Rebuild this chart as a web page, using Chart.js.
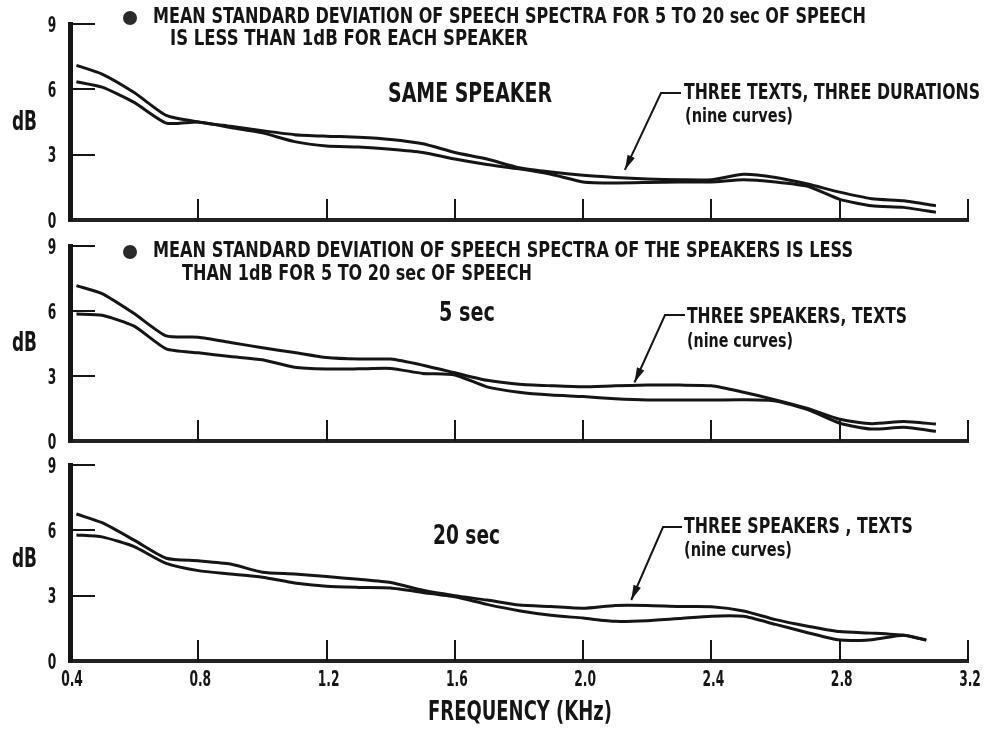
<!DOCTYPE html>
<html>
<head>
<meta charset="utf-8">
<script src="https://cdn.jsdelivr.net/npm/chart.js@4.4.1/dist/chart.umd.min.js"></script>
<style>
  body { margin: 0; background: #fff; }
  #wrap { position: relative; width: 984px; height: 731px; }
  canvas { position: absolute; left: 0; }
</style>
</head>
<body>
<div id="wrap">
  <canvas id="panel-1" width="984" height="240" style="top:0px"></canvas>
  <canvas id="panel-2" width="984" height="237" style="top:224px"></canvas>
  <canvas id="panel-3" width="984" height="286" style="top:445px"></canvas>
</div>
<script>
const INK = "#151515";
const FONT = "'DejaVu Sans Condensed', 'DejaVu Sans', sans-serif";

// frequency (kHz) where the curves were read
const freq = [0.42, 0.5, 0.6, 0.7, 0.8, 0.9, 1.0, 1.1, 1.2, 1.3, 1.4, 1.5, 1.6, 1.7,
  1.8, 1.9, 2.0, 2.1, 2.2, 2.3, 2.4, 2.5, 2.6, 2.7, 2.8, 2.9, 3.0, 3.1];
const freq20 = [0.42, 0.5, 0.6, 0.7, 0.8, 0.9, 1.0, 1.1, 1.2, 1.3, 1.4, 1.5, 1.6, 1.7,
  1.8, 1.9, 2.0, 2.1, 2.2, 2.3, 2.4, 2.5, 2.6, 2.7, 2.8, 2.9, 3.0, 3.07];

// same speaker, upper / lower edge of the nine curves (dB)
const sameHigh = [7.1, 6.7, 5.85, 4.8, 4.5, 4.3, 4.1, 3.92, 3.85, 3.8, 3.7, 3.5, 3.1, 2.8,
  2.4, 2.2, 2.05, 1.95, 1.88, 1.85, 1.85, 2.1, 1.95, 1.65, 1.28, 0.98, 0.88, 0.65];
const sameLow = [6.35, 6.1, 5.4, 4.45, 4.5, 4.25, 4.0, 3.6, 3.4, 3.35, 3.25, 3.1, 2.8, 2.55,
  2.35, 2.1, 1.75, 1.7, 1.72, 1.75, 1.75, 1.85, 1.75, 1.55, 0.95, 0.65, 0.58, 0.35];
// 5 sec
const fiveHigh = [7.17, 6.8, 5.88, 4.85, 4.79, 4.55, 4.3, 4.08, 3.85, 3.78, 3.78, 3.5, 3.15, 2.8,
  2.62, 2.55, 2.5, 2.55, 2.58, 2.58, 2.55, 2.25, 1.9, 1.5, 1.0, 0.8, 0.9, 0.78];
const fiveLow = [5.86, 5.8, 5.3, 4.25, 4.07, 3.9, 3.75, 3.4, 3.32, 3.33, 3.35, 3.12, 3.05, 2.5,
  2.25, 2.12, 2.05, 1.95, 1.89, 1.89, 1.89, 1.9, 1.85, 1.45, 0.82, 0.55, 0.63, 0.45];
// 20 sec
const twentyHigh = [6.75, 6.35, 5.55, 4.72, 4.6, 4.45, 4.08, 4.0, 3.88, 3.75, 3.6, 3.25, 3.0, 2.8,
  2.57, 2.5, 2.42, 2.55, 2.55, 2.5, 2.49, 2.3, 1.9, 1.6, 1.35, 1.28, 1.18, 0.96];
const twentyLow = [5.79, 5.7, 5.25, 4.48, 4.15, 4.0, 3.85, 3.58, 3.43, 3.38, 3.35, 3.15, 2.95, 2.6,
  2.31, 2.1, 1.97, 1.82, 1.85, 1.95, 2.06, 2.05, 1.68, 1.3, 0.96, 0.98, 1.18, 0.96];

const freqTicks = [0.4, 0.8, 1.2, 1.6, 2.0, 2.4, 2.8, 3.2];
const dbTicks = [0, 3, 6, 9];

// text in a narrow look: either fitted to width w (left aligned) or squeezed by sx (centred)
function drawText(ctx, text, x, y, size, o) {
  ctx.save();
  ctx.font = "bold " + size + "px " + FONT;
  const m = ctx.measureText(text).width;
  const sx = o.w ? o.w / m : o.sx;
  ctx.translate(o.w ? x : x - (m * sx) / 2, y);
  ctx.scale(sx, 1);
  ctx.textBaseline = "middle";
  ctx.fillStyle = INK;
  ctx.fillText(text, 0, 0);
  ctx.restore();
}

// inner tick marks + tick labels, placed with the chart's own scales
function makeAxisMarks(showX) {
  return {
    id: "axisMarks",
    afterDatasetsDraw(chart) {
      const { ctx, chartArea: a, scales: { x, y } } = chart;
      ctx.save();
      ctx.strokeStyle = INK;
      ctx.lineWidth = 2;
      ctx.beginPath();
      freqTicks.slice(1).forEach((v) => {
        const px = Math.round(x.getPixelForValue(v));
        ctx.moveTo(px, a.bottom);
        ctx.lineTo(px, a.bottom - 21);
      });
      dbTicks.slice(1).forEach((v) => {
        const py = Math.round(y.getPixelForValue(v));
        ctx.moveTo(a.left, py);
        ctx.lineTo(a.left + 25, py);
      });
      ctx.stroke();
      ctx.restore();
      dbTicks.forEach((v) => drawText(ctx, String(v), 52, y.getPixelForValue(v) + 2, 22, { sx: 0.62 }));
      if (showX) {
        freqTicks.forEach((v) => drawText(ctx, v.toFixed(1), x.getPixelForValue(v) + 2, a.bottom + 19, 22, { sx: 0.62 }));
        drawText(ctx, "FREQUENCY (KHz)", 428, a.bottom + 52, 27, { w: 184 });
      }
    },
  };
}

function makeNotes(n) {
  return {
    id: "notes",
    afterDraw(chart) {
      const { ctx, scales: { x, y } } = chart;
      const off = n.top;
      n.texts.forEach((t) => drawText(ctx, t[0], t[1], t[2] - off, t[4], { w: t[3] }));
      ctx.save();
      ctx.fillStyle = "#2a2a2a";
      ctx.strokeStyle = INK;
      if (n.bullet) {
        ctx.beginPath();
        ctx.arc(n.bullet[0], n.bullet[1] - off, 7, 0, Math.PI * 2);
        ctx.fill();
      }
      // leader line with arrow onto the curves
      ctx.fillStyle = INK;
      const tx = x.getPixelForValue(n.tip[0]);
      const ty = y.getPixelForValue(n.tip[1]);
      const bx = n.bend[0], by = n.bend[1] - off;
      ctx.lineWidth = 2;
      ctx.beginPath();
      ctx.moveTo(n.bend[2], by);
      ctx.lineTo(bx, by);
      ctx.lineTo(tx, ty);
      ctx.stroke();
      const ang = Math.atan2(ty - by, tx - bx);
      ctx.beginPath();
      ctx.moveTo(tx, ty);
      ctx.lineTo(tx - 15 * Math.cos(ang) + 4 * Math.sin(ang), ty - 15 * Math.sin(ang) - 4 * Math.cos(ang));
      ctx.lineTo(tx - 15 * Math.cos(ang) - 4 * Math.sin(ang), ty - 15 * Math.sin(ang) + 4 * Math.cos(ang));
      ctx.closePath();
      ctx.fill();
      ctx.restore();
    },
  };
}

function makePanel(id, xs, high, low, padTop, xHeight, showX, notes) {
  const line = (vals) => ({
    data: xs.map((f, i) => ({ x: f, y: vals[i] })),
    borderColor: INK,
    borderWidth: 3,
    pointRadius: 0,
    tension: 0.2,
    fill: false,
  });
  return new Chart(document.getElementById(id).getContext("2d"), {
    type: "line",
    data: { datasets: [line(high), line(low)] },
    options: {
      responsive: false,
      animation: false,
      layout: { padding: { top: padTop, right: 16, left: 0, bottom: 0 } },
      plugins: { legend: { display: false }, tooltip: { enabled: false } },
      scales: {
        x: {
          type: "linear",
          min: 0.4,
          max: 3.2,
          afterBuildTicks: (s) => { s.ticks = freqTicks.map((v) => ({ value: v })); },
          afterFit: (s) => { s.height = xHeight; },
          border: { display: true, width: 4, color: "#222" },
          grid: { display: false },
          ticks: { display: false },
        },
        y: {
          min: 0,
          max: 9,
          afterBuildTicks: (s) => { s.ticks = dbTicks.map((v) => ({ value: v })); },
          afterFit: (s) => { s.width = 70; },
          border: { display: true, width: 5, color: INK },
          grid: { display: false },
          ticks: { display: false },
        },
      },
    },
    plugins: [makeAxisMarks(showX), makeNotes(notes)],
  });
}

makePanel("panel-1", freq, sameHigh, sameLow, 24, 20, false, {
  top: 0,
  bullet: [130, 18],
  texts: [
    ["MEAN STANDARD DEVIATION OF SPEECH SPECTRA FOR 5 TO 20 sec OF SPEECH", 153, 18, 713, 21],
    ["IS LESS THAN 1dB FOR EACH SPEAKER", 170, 40, 358, 21],
    ["SAME SPEAKER", 388, 95, 164, 27],
    ["THREE TEXTS, THREE DURATIONS", 684, 93, 296, 22],
    ["(nine curves)", 685, 117, 108, 19],
    ["dB", 12, 123, 25, 27],
  ],
  bend: [661, 93, 681],
  tip: [2.13, 2.3],
});

makePanel("panel-2", freq, fiveHigh, fiveLow, 22, 20, false, {
  top: 224,
  bullet: [130, 252],
  texts: [
    ["MEAN STANDARD DEVIATION OF SPEECH SPECTRA OF THE SPEAKERS IS LESS", 153, 252, 700, 21],
    ["THAN 1dB FOR 5 TO 20 sec OF SPEECH", 182, 275, 350, 21],
    ["5 sec", 439, 314, 56, 27],
    ["THREE SPEAKERS, TEXTS", 687, 317, 220, 22],
    ["(nine curves)", 687, 342, 106, 19],
    ["dB", 12, 344, 25, 27],
  ],
  bend: [665, 315, 685],
  tip: [2.16, 2.7],
});

makePanel("panel-3", freq20, twentyHigh, twentyLow, 20, 70, true, {
  top: 445,
  bullet: null,
  texts: [
    ["20 sec", 433, 537, 67, 27],
    ["THREE SPEAKERS , TEXTS", 684, 527, 229, 22],
    ["(nine curves)", 684, 551, 108, 19],
    ["dB", 12, 560, 25, 27],
  ],
  bend: [663, 527, 682],
  tip: [2.15, 2.8],
});
</script>
</body>
</html>
